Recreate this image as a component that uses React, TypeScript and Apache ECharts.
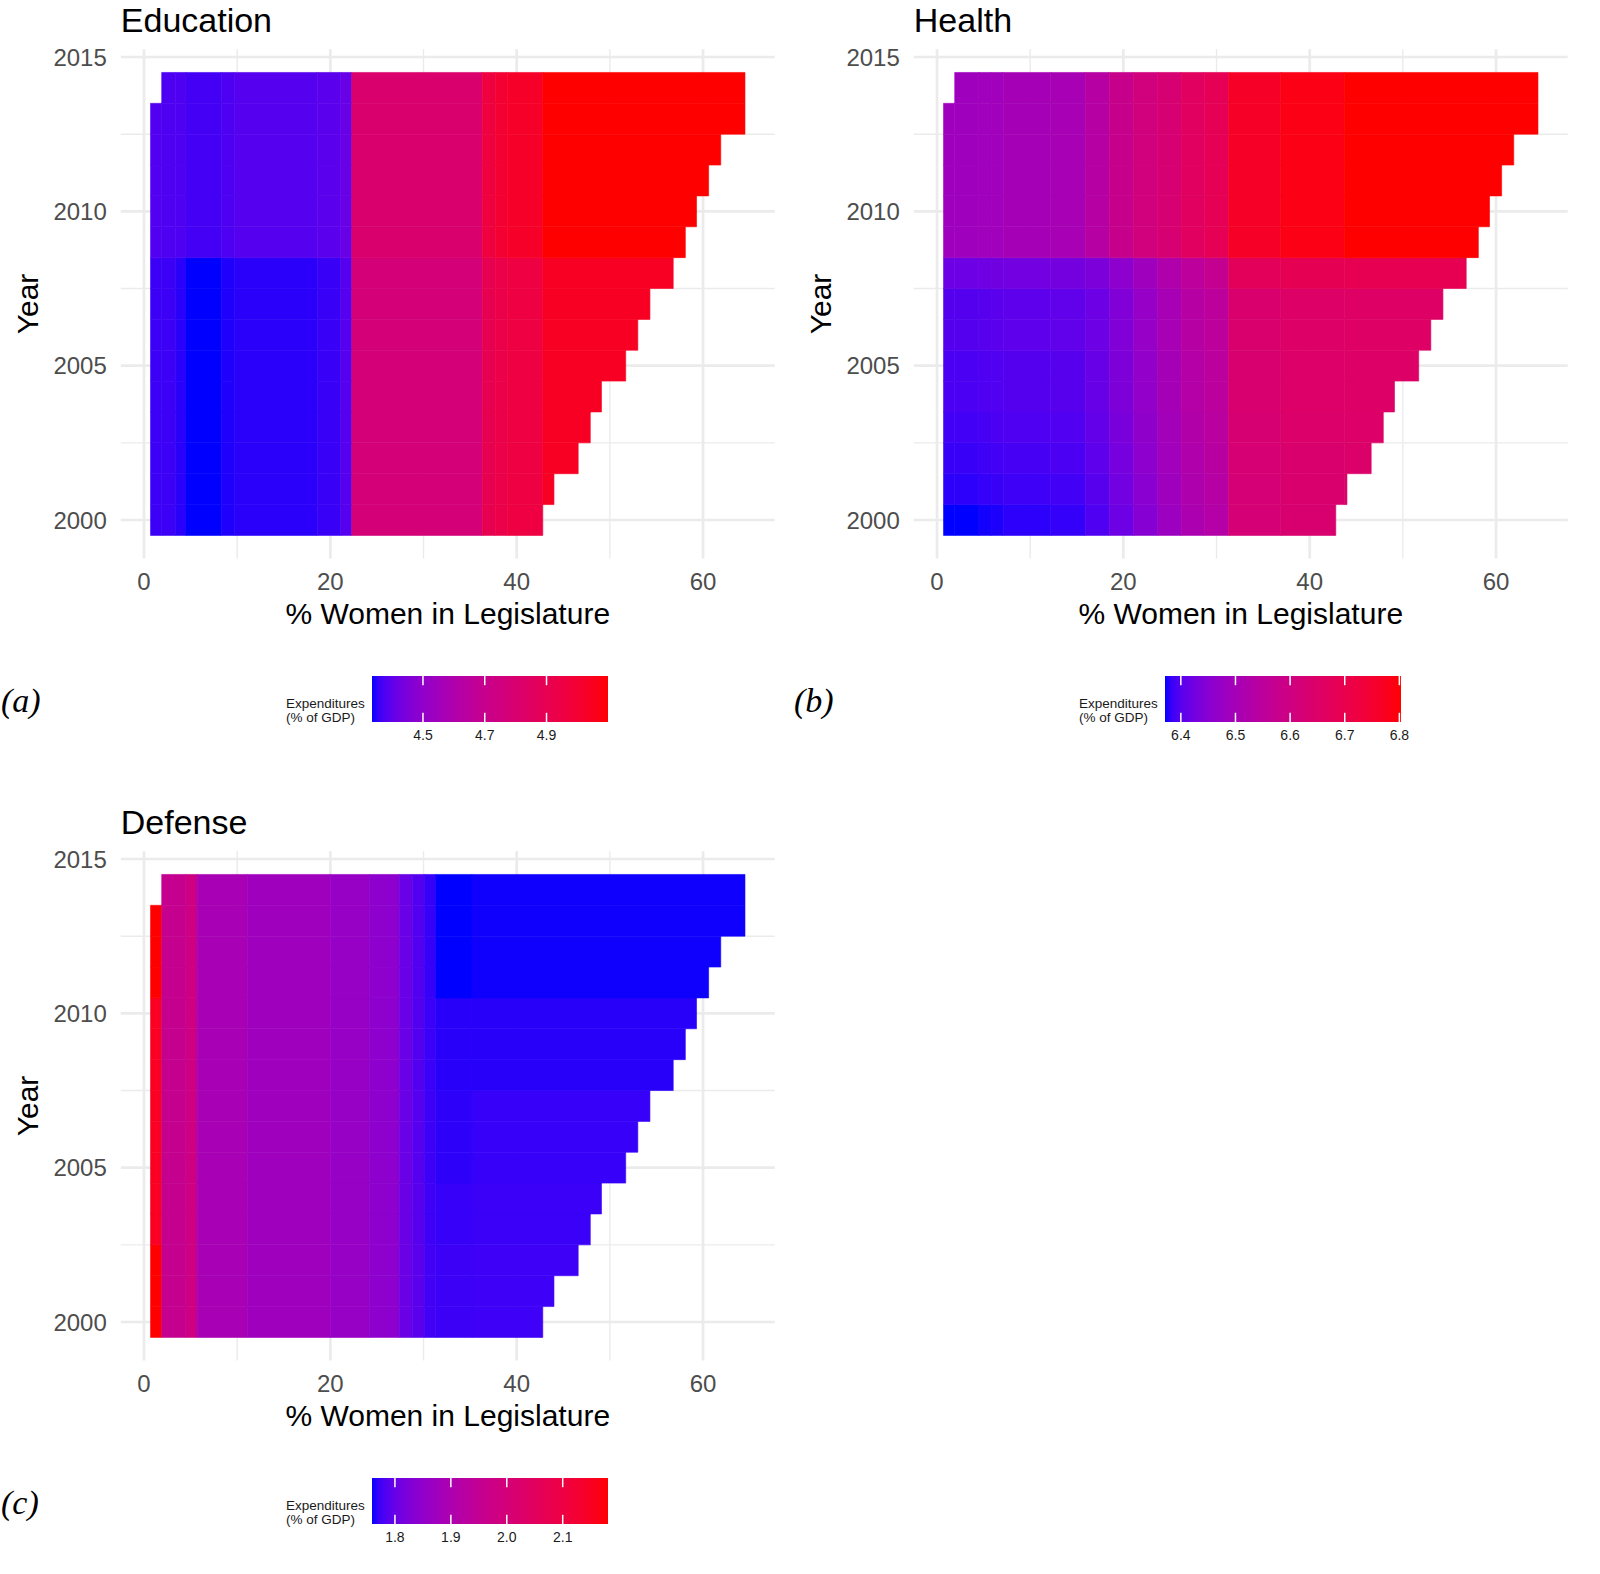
import { useEffect, useRef } from "react";
import * as echarts from "echarts";

// rows: one per year, spanning the observed range of % women
const years = [2000, 2001, 2002, 2003, 2004, 2005, 2006, 2007, 2008, 2009, 2010, 2011, 2012, 2013, 2014];
const rowStart = [0.7, 0.7, 0.7, 0.7, 0.7, 0.7, 0.7, 0.7, 0.7, 0.7, 0.7, 0.7, 0.7, 0.7, 1.9];
const rowEnd = [42.8, 44.0, 46.6, 47.9, 49.1, 51.7, 53.0, 54.3, 56.8, 58.1, 59.3, 60.6, 61.9, 64.5, 64.5];

// Education: strip edges on x, year groups, expenditure per strip
const eduEdges = [0.7, 1.9, 3.4, 4.5, 8.3, 9.7, 18.6, 21.1, 22.3, 36.3, 37.7, 39.0, 42.8, 64.5];
const eduGroups = [[2000, 2008], [2009, 2014]];
const eduValues = [
  [4.360, 4.360, 4.350, 4.335, 4.346, 4.350, 4.358, 4.385, 4.771, 4.908, 4.931, 4.954, 5.038],
  [4.381, 4.377, 4.377, 4.366, 4.377, 4.385, 4.392, 4.411, 4.809, 4.961, 4.999, 5.023, 5.099],
];
const eduBreaks = [4.5, 4.7, 4.9];

// Health
const healthEdges = [0.7, 1.9, 4.5, 5.8, 7.1, 12.2, 15.9, 18.5, 21.1, 23.7, 26.2, 28.7, 31.3, 36.9, 43.7, 64.5];
const healthGroups = [[2000, 2000], [2001, 2001], [2002, 2002], [2003, 2003], [2004, 2005], [2006, 2007], [2008, 2008], [2009, 2014]];
const healthValues = [
  [6.371, 6.371, 6.375, 6.377, 6.380, 6.382, 6.395, 6.419, 6.449, 6.483, 6.514, 6.531, 6.622, 6.635, 6.639],
  [6.380, 6.380, 6.382, 6.384, 6.386, 6.388, 6.401, 6.425, 6.453, 6.488, 6.518, 6.535, 6.624, 6.637, 6.641],
  [6.384, 6.384, 6.386, 6.388, 6.390, 6.393, 6.406, 6.429, 6.458, 6.492, 6.522, 6.540, 6.626, 6.639, 6.644],
  [6.388, 6.388, 6.390, 6.393, 6.395, 6.397, 6.410, 6.434, 6.462, 6.496, 6.527, 6.544, 6.631, 6.644, 6.648],
  [6.393, 6.393, 6.395, 6.397, 6.399, 6.401, 6.414, 6.438, 6.466, 6.501, 6.531, 6.548, 6.635, 6.648, 6.652],
  [6.399, 6.399, 6.401, 6.403, 6.406, 6.408, 6.419, 6.442, 6.471, 6.505, 6.535, 6.553, 6.639, 6.652, 6.657],
  [6.419, 6.419, 6.421, 6.423, 6.425, 6.427, 6.436, 6.458, 6.488, 6.522, 6.553, 6.570, 6.674, 6.687, 6.691],
  [6.488, 6.488, 6.492, 6.492, 6.501, 6.505, 6.535, 6.579, 6.609, 6.631, 6.665, 6.683, 6.765, 6.786, 6.803],
];
const healthBreaks = [6.4, 6.5, 6.6, 6.7, 6.8];

// Defense
const defEdges = [0.7, 1.9, 4.5, 5.7, 11.1, 20.0, 24.2, 27.4, 28.8, 30.1, 31.3, 35.2, 64.5];
const defGroups = [[2000, 2002], [2003, 2004], [2005, 2007], [2008, 2010], [2011, 2014]];
const defValues = [
  [2.181, 1.958, 1.979, 1.890, 1.873, 1.860, 1.844, 1.803, 1.790, 1.776, 1.773, 1.774],
  [2.148, 1.958, 1.979, 1.890, 1.873, 1.860, 1.844, 1.803, 1.789, 1.774, 1.770, 1.772],
  [2.148, 1.958, 1.979, 1.890, 1.873, 1.860, 1.844, 1.803, 1.788, 1.773, 1.768, 1.770],
  [2.148, 1.958, 1.979, 1.890, 1.873, 1.860, 1.844, 1.803, 1.786, 1.772, 1.767, 1.767],
  [2.181, 1.958, 1.979, 1.890, 1.873, 1.860, 1.844, 1.803, 1.786, 1.770, 1.759, 1.762],
];
const defBreaks = [1.8, 1.9, 2.0, 2.1];

// axis breaks (major and minor grid lines)
const xMajor = [0, 20, 40, 60];
const xMinor = [10, 30, 50];
const yMajor = [2000, 2005, 2010, 2015];
const yMinor = [2002.5, 2007.5, 2012.5];

const FONT = '"Liberation Sans", Arial, Helvetica, sans-serif';
const GRID_LEFT = 120.8;
const GRID_TOP = 49.3;
const GRID_W = 653.9;
const GRID_H = 509.3;
const COL_STEP = 793;
const ROW_STEP = 802;

const panels = [
  { title: "Education", tag: "(a)", col: 0, row: 0, edges: eduEdges, groups: eduGroups, values: eduValues, breaks: eduBreaks },
  { title: "Health", tag: "(b)", col: 1, row: 0, edges: healthEdges, groups: healthGroups, values: healthValues, breaks: healthBreaks },
  { title: "Defense", tag: "(c)", col: 0, row: 1, edges: defEdges, groups: defGroups, values: defValues, breaks: defBreaks },
];

// ggplot-style blue -> red gradient, interpolated in CIE Lab
function labToRgb(L: number, a: number, b: number) {
  const fy = (L + 16) / 116;
  const fx = fy + a / 500;
  const fz = fy - b / 200;
  const inv = (t: number) => (t ** 3 > 0.008856 ? t ** 3 : (t - 16 / 116) / 7.787);
  const X = 0.95047 * inv(fx);
  const Y = inv(fy);
  const Z = 1.08883 * inv(fz);
  const lin = [
    3.2406 * X - 1.5372 * Y - 0.4986 * Z,
    -0.9689 * X + 1.8758 * Y + 0.0415 * Z,
    0.0557 * X - 0.204 * Y + 1.057 * Z,
  ];
  const ch = lin.map((c) => {
    const v = c <= 0.0031308 ? 12.92 * c : 1.055 * Math.pow(Math.max(c, 0), 1 / 2.4) - 0.055;
    return Math.round(Math.min(1, Math.max(0, v)) * 255);
  });
  return `rgb(${ch[0]},${ch[1]},${ch[2]})`;
}
const LAB_LOW = [32.3, 79.19, -107.86];
const LAB_HIGH = [53.24, 80.09, 67.2];
const gradient = Array.from({ length: 41 }, (_, k) => {
  const t = k / 40;
  return labToRgb(
    LAB_LOW[0] + (LAB_HIGH[0] - LAB_LOW[0]) * t,
    LAB_LOW[1] + (LAB_HIGH[1] - LAB_LOW[1]) * t,
    LAB_LOW[2] + (LAB_HIGH[2] - LAB_LOW[2]) * t
  );
});

function buildCells(edges: number[], groups: number[][], values: number[][]) {
  const cells: number[][] = [];
  years.forEach((year, i) => {
    const g = groups.findIndex(([a, b]) => year >= a && year <= b);
    for (let k = 0; k < edges.length - 1; k++) {
      const x0 = Math.max(edges[k], rowStart[i]);
      const x1 = Math.min(edges[k + 1], rowEnd[i]);
      if (x1 > x0) cells.push([x0, x1, year, values[g][k]]);
    }
  });
  return cells;
}

const xLo = Math.min(...rowStart);
const xHi = Math.max(...rowEnd);
const X_MIN = xLo - 0.05 * (xHi - xLo);
const X_MAX = xHi + 0.05 * (xHi - xLo);
const yLo = years[0] - 0.5;
const yHi = years[years.length - 1] + 0.5;
const Y_MIN = yLo - 0.05 * (yHi - yLo);
const Y_MAX = yHi + 0.05 * (yHi - yLo);

const gridLineData = [
  ...xMajor.map((v) => [0, v, 1]),
  ...xMinor.map((v) => [0, v, 0]),
  ...yMajor.map((v) => [1, v, 1]),
  ...yMinor.map((v) => [1, v, 0]),
];

function buildOption() {
  const grids: any[] = [];
  const xAxes: any[] = [];
  const yAxes: any[] = [];
  const series: any[] = [];
  const visualMaps: any[] = [];
  const graphics: any[] = [];

  panels.forEach((p, i) => {
    const left = GRID_LEFT + p.col * COL_STEP;
    const top = GRID_TOP + p.row * ROW_STEP;
    grids.push({ left, top, width: GRID_W, height: GRID_H });

    xAxes.push({
      type: "value",
      gridIndex: i,
      min: X_MIN,
      max: X_MAX,
      splitNumber: 3,
      name: "% Women in Legislature",
      nameLocation: "middle",
      nameGap: 40,
      nameTextStyle: { fontSize: 30, color: "#000", fontFamily: FONT },
      axisLine: { show: false },
      axisTick: { show: false },
      splitLine: { show: false },
      axisLabel: {
        fontSize: 24,
        color: "#4D4D4D",
        fontFamily: FONT,
        margin: 11,
        formatter: (v: number) => (Math.abs(v % 20) < 1e-6 ? String(Math.round(v)) : ""),
      },
    });
    yAxes.push({
      type: "value",
      gridIndex: i,
      min: Y_MIN,
      max: Y_MAX,
      splitNumber: 3,
      name: "Year",
      nameLocation: "middle",
      nameGap: 78,
      nameTextStyle: { fontSize: 30, color: "#000", fontFamily: FONT },
      axisLine: { show: false },
      axisTick: { show: false },
      splitLine: { show: false },
      axisLabel: {
        fontSize: 24,
        color: "#4D4D4D",
        fontFamily: FONT,
        margin: 14,
        formatter: (v: number) => (Math.abs(v % 5) < 1e-6 ? String(Math.round(v)) : ""),
      },
    });

    series.push({
      type: "custom",
      xAxisIndex: i,
      yAxisIndex: i,
      silent: true,
      z: 1,
      data: gridLineData,
      renderItem: (params: any, api: any) => {
        const cs = params.coordSys;
        const dir = api.value(0);
        const v = api.value(1);
        const style = { stroke: "#EBEBEB", lineWidth: api.value(2) ? 2.7 : 1.4 };
        if (dir === 0) {
          const x = api.coord([v, 2007])[0];
          return { type: "line", shape: { x1: x, y1: cs.y, x2: x, y2: cs.y + cs.height }, style };
        }
        const y = api.coord([30, v])[1];
        return { type: "line", shape: { x1: cs.x, y1: y, x2: cs.x + cs.width, y2: y }, style };
      },
    });

    const cells = buildCells(p.edges, p.groups, p.values);
    const vals = cells.map((c) => c[3]);
    const vmin = Math.min(...vals);
    const vmax = Math.max(...vals);
    const tileIndex = series.length;
    series.push({
      type: "custom",
      xAxisIndex: i,
      yAxisIndex: i,
      z: 2,
      encode: { x: [0, 1], y: 2 },
      data: cells,
      renderItem: (_params: any, api: any) => {
        const p0 = api.coord([api.value(0), api.value(2) + 0.5]);
        const p1 = api.coord([api.value(1), api.value(2) - 0.5]);
        const color = api.visual("color");
        return {
          type: "rect",
          shape: { x: p0[0], y: p0[1], width: p1[0] - p0[0], height: p1[1] - p0[1] },
          style: { fill: color, stroke: color, lineWidth: 0.6 },
        };
      },
    });
    visualMaps.push({
      type: "continuous",
      show: false,
      seriesIndex: tileIndex,
      dimension: 3,
      min: vmin,
      max: vmax,
      inRange: { color: gradient },
    });

    // panel title and tag
    graphics.push({
      type: "text",
      x: left,
      y: 3 + p.row * ROW_STEP,
      style: { text: p.title, font: `34px ${FONT}`, fill: "#000", verticalAlign: "top", textVerticalAlign: "top" },
    });
    graphics.push({
      type: "text",
      x: 1 + p.col * COL_STEP,
      y: 700 + p.row * ROW_STEP,
      style: { text: p.tag, font: `italic 34px "Liberation Serif", "Times New Roman", serif`, fill: "#000", verticalAlign: "middle", textVerticalAlign: "middle" },
    });

    // colour bar legend
    const barW = 236;
    const barH = 46;
    const barLeft = left + GRID_W / 2 - 75.75;
    const barTop = 676 + p.row * ROW_STEP;
    graphics.push({
      type: "rect",
      shape: { x: barLeft, y: barTop, width: barW, height: barH },
      style: {
        fill: new echarts.graphic.LinearGradient(
          0, 0, 1, 0,
          gradient.map((c, k) => ({ offset: k / (gradient.length - 1), color: c }))
        ),
      },
    });
    p.breaks.forEach((b) => {
      const bx = barLeft + ((b - vmin) / (vmax - vmin)) * barW;
      graphics.push({
        type: "line",
        shape: { x1: bx, y1: barTop, x2: bx, y2: barTop + barH / 5 },
        style: { stroke: "#fff", lineWidth: 1.5 },
      });
      graphics.push({
        type: "line",
        shape: { x1: bx, y1: barTop + barH - barH / 5, x2: bx, y2: barTop + barH },
        style: { stroke: "#fff", lineWidth: 1.5 },
      });
      graphics.push({
        type: "text",
        x: bx,
        y: barTop + barH + 6,
        style: {
          text: b.toFixed(1),
          font: `14px ${FONT}`,
          fill: "#1A1A1A",
          align: "center",
          textAlign: "center",
          verticalAlign: "top",
          textVerticalAlign: "top",
        },
      });
    });
    graphics.push({
      type: "text",
      x: barLeft - 86,
      y: barTop + 20,
      style: {
        text: "Expenditures\n(% of GDP)",
        font: `13.5px ${FONT}`,
        lineHeight: 14,
        fill: "#1A1A1A",
        align: "left",
        textAlign: "left",
        verticalAlign: "top",
        textVerticalAlign: "top",
      },
    });
  });

  return {
    animation: false,
    backgroundColor: "#fff",
    grid: grids,
    xAxis: xAxes,
    yAxis: yAxes,
    visualMap: visualMaps,
    series,
    graphic: graphics,
  };
}

export default function App() {
  const ref = useRef<HTMLDivElement>(null);
  useEffect(() => {
    document.body.style.margin = "0";
    if (!ref.current) return;
    const chart = echarts.init(ref.current, null, { renderer: "svg" });
    chart.setOption(buildOption());
    return () => chart.dispose();
  }, []);
  return <div ref={ref} style={{ width: 1600, height: 1574 }} />;
}
